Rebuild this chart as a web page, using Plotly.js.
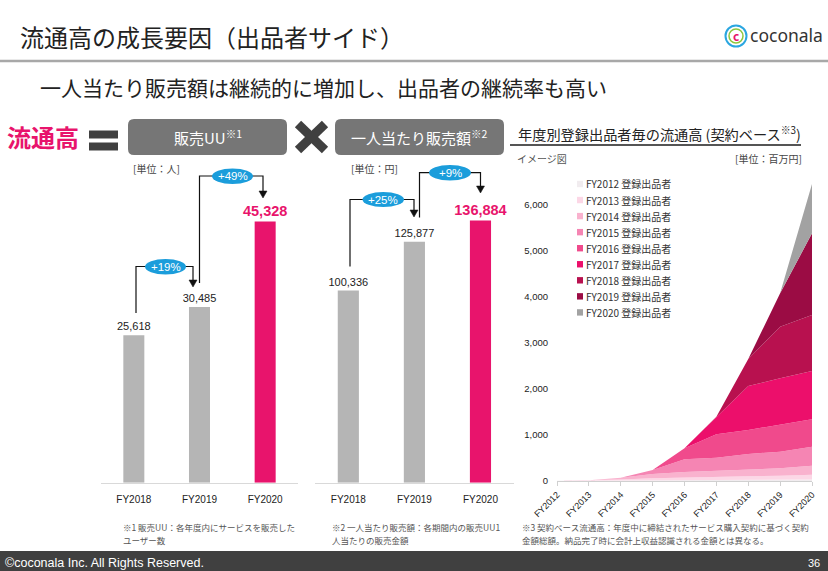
<!DOCTYPE html>
<html>
<head>
<meta charset="utf-8">
<script src="https://cdn.plot.ly/plotly-3.0.1.min.js"></script>
<style>html,body{margin:0;padding:0;background:#fff;}#chart{width:828px;height:571px;}</style>
</head>
<body>
<div id="chart"></div>
<script>
// ---------- data ----------
const barCats = ['FY2018', 'FY2019', 'FY2020'];
const uuValues = [25618, 30485, 45328];
const perUserValues = [100336, 125877, 136884];
const uuGrowth = ['+19%', '+49%'];
const perUserGrowth = ['+25%', '+9%'];

const areaYears = ['FY2012','FY2013','FY2014','FY2015','FY2016','FY2017','FY2018','FY2019','FY2020'];
const cohortNames = ['FY2012 登録出品者','FY2013 登録出品者','FY2014 登録出品者','FY2015 登録出品者','FY2016 登録出品者','FY2017 登録出品者','FY2018 登録出品者','FY2019 登録出品者','FY2020 登録出品者'];
const cohort2012 = [3, 6, 10, 14, 18, 20, 22, 25, 30];
const cohort2013 = [0, 9, 25, 46, 62, 75, 83, 90, 105];
const cohort2014 = [0, 0, 37, 92, 116, 122, 134, 160, 198];
const cohort2015 = [0, 0, 0, 87, 275, 290, 348, 362, 413];
const cohort2016 = [0, 0, 0, 0, 240, 508, 522, 580, 595];
const cohort2017 = [0, 0, 0, 0, 0, 383, 956, 1015, 1050];
const cohort2018 = [0, 0, 0, 0, 0, 0, 585, 1123, 1218];
const cohort2019 = [0, 0, 0, 0, 0, 0, 0, 725, 1776];
const cohort2020 = [0, 0, 0, 0, 0, 0, 0, 0, 1072];
const cohorts = [cohort2012, cohort2013, cohort2014, cohort2015, cohort2016, cohort2017, cohort2018, cohort2019, cohort2020];
const yTicks3 = [0, 1000, 2000, 3000, 4000, 5000, 6000];

// ---------- styling ----------
const W = 828, H = 571;
const JP = '"Noto Sans CJK JP", "Noto Sans", sans-serif';
const LAT = '"Liberation Sans", Arial, sans-serif';
const PINK = '#e8146c';
const GRAY_BAR = '#b5b5b5';
const BLUE = '#1b9ddb';
const cohortColors = ['#f1ecef','#fcd7e6','#f9b2ce','#f585b3','#f04a8c','#ec0f6b','#b8114f','#9b0c44','#a2a2a2'];

const X = v => v / W;
const Y = v => 1 - v / H;
const fmt = v => v.toLocaleString('en-US');

function ann(text, x, y, size, color, opts) {
  return Object.assign({
    xref: 'paper', yref: 'paper', x: X(x), y: Y(y), text: text, showarrow: false,
    xanchor: 'left', yanchor: 'middle', borderpad: 0,
    font: {family: JP, size: size, color: color}
  }, opts || {});
}
function rect(x0, y0, x1, y1, fill) {
  return {type: 'rect', xref: 'paper', yref: 'paper', x0: X(x0), x1: X(x1), y0: Y(y1), y1: Y(y0),
          fillcolor: fill, line: {width: 0}};
}
function line(x0, y0, x1, y1, color, w) {
  return {type: 'line', xref: 'paper', yref: 'paper', x0: X(x0), y0: Y(y0), x1: X(x1), y1: Y(y1),
          line: {color: color, width: w}};
}
function ellipse(x0, y0, x1, y1, fill, lc, lw) {
  return {type: 'circle', xref: 'paper', yref: 'paper', x0: X(x0), x1: X(x1), y0: Y(y1), y1: Y(y0),
          fillcolor: fill, line: {color: lc || fill, width: lw || 0}};
}
function pathShape(pts, fill, lc, lw, closed) {
  let d = pts.map((p, i) => (i ? 'L' : 'M') + X(p[0]) + ',' + Y(p[1])).join(' ');
  if (closed) d += ' Z';
  return {type: 'path', xref: 'paper', yref: 'paper', path: d,
          fillcolor: fill || 'rgba(0,0,0,0)', line: {color: lc || 'rgba(0,0,0,0)', width: lw || 0}};
}
function rrect(x0, y0, x1, y1, r, fill) {
  const P = (x, y) => X(x) + ',' + Y(y);
  const d = 'M' + P(x0 + r, y0) + ' L' + P(x1 - r, y0) + ' Q' + P(x1, y0) + ' ' + P(x1, y0 + r) +
    ' L' + P(x1, y1 - r) + ' Q' + P(x1, y1) + ' ' + P(x1 - r, y1) +
    ' L' + P(x0 + r, y1) + ' Q' + P(x0, y1) + ' ' + P(x0, y1 - r) +
    ' L' + P(x0, y0 + r) + ' Q' + P(x0, y0) + ' ' + P(x0 + r, y0) + ' Z';
  return {type: 'path', xref: 'paper', yref: 'paper', path: d, fillcolor: fill, line: {width: 0}};
}
function connector(xs, yTop, xe, yTip) {
  return [
    pathShape([[xs.x, xs.y], [xs.x, yTop], [xe, yTop], [xe, yTip - 6]], null, '#111', 1.2, false),
    pathShape([[xe - 4, yTip - 7], [xe + 4, yTip - 7], [xe, yTip]], '#111', '#111', 0.5, true)
  ];
}

// ---------- traces ----------
const barColors = [GRAY_BAR, GRAY_BAR, PINK];
const barTextColors = ['#222', '#222', PINK];
const barTextSizes = [11, 11, 14.5];
const boldLast = vals => vals.map((v, i) => i === vals.length - 1 ? '<b>' + fmt(v) + '</b>' : fmt(v));

const traces = [
  {type: 'bar', x: barCats, y: uuValues, xaxis: 'x', yaxis: 'y', width: 0.32,
   marker: {color: barColors}, text: boldLast(uuValues), textposition: 'outside', cliponaxis: false,
   constraintext: 'none',
   textfont: {family: LAT, size: barTextSizes, color: barTextColors}, hoverinfo: 'skip', showlegend: false},
  {type: 'bar', x: barCats, y: perUserValues, xaxis: 'x2', yaxis: 'y2', width: 0.32,
   marker: {color: barColors}, text: boldLast(perUserValues), textposition: 'outside', cliponaxis: false,
   constraintext: 'none',
   textfont: {family: LAT, size: barTextSizes, color: barTextColors}, hoverinfo: 'skip', showlegend: false}
];
cohorts.forEach((vals, i) => {
  traces.push({type: 'scatter', mode: 'lines', x: areaYears, y: vals, xaxis: 'x3', yaxis: 'y3',
    stackgroup: 'one', fillcolor: cohortColors[i], line: {width: 0, color: cohortColors[i]},
    name: cohortNames[i], showlegend: false, hoverinfo: 'skip'});
});

// ---------- decorations ----------
const shapes = [];
const annotations = [];

// header
annotations.push(ann('流通高の成長要因（出品者サイド）', 19, 36, 24, '#222'));
shapes.push(line(0, 61, 828, 61, '#a8a8a8', 2.5));
annotations.push(ann('一人当たり販売額は継続的に増加し、出品者の継続率も高い', 39, 87, 21, '#222'));
// logo
shapes.push(ellipse(725.5, 25.5, 746.5, 46.5, 'rgba(0,0,0,0)', '#2aa6e0', 2));
shapes.push(ellipse(729, 29, 743, 43, 'rgba(0,0,0,0)', '#8dc63f', 1.5));
annotations.push(ann('<b>c</b>', 736, 35.5, 12, PINK, {xanchor: 'center'}));
annotations.push(ann('coconala', 749, 35, 17.5, '#333', {font: {family: '"Noto Sans", sans-serif', size: 17.5, color: '#333'}}));

// equation row
annotations.push(ann('<b>流通高</b>', 43, 136, 24, PINK, {xanchor: 'center'}));
shapes.push(rect(89, 130.5, 118, 138.5, '#404040'));
shapes.push(rect(89, 142.5, 118, 150.5, '#404040'));
shapes.push(rrect(128, 119, 287, 155, 6, '#767676'));
annotations.push(ann('販売UU<sup>※1</sup>', 207.5, 137, 15, '#fff', {xanchor: 'center'}));
shapes.push(line(298, 124, 325, 150, '#404040', 9));
shapes.push(line(298, 150, 325, 124, '#404040', 9));
shapes.push(rrect(335, 119, 504, 155, 6, '#767676'));
annotations.push(ann('一人当たり販売額<sup>※2</sup>', 419.5, 137, 15, '#fff', {xanchor: 'center'}));
annotations.push(ann('[単位：人]', 132, 169, 10, '#444'));
annotations.push(ann('[単位：円]', 350, 169, 10, '#444'));

// growth connectors (left)
connector({x: 136, y: 313}, 266.5, 193, 287).forEach(s => shapes.push(s));
connector({x: 199.5, y: 283}, 176, 263, 198).forEach(s => shapes.push(s));
shapes.push(ellipse(145, 259, 186, 274.5, BLUE));
annotations.push(ann(uuGrowth[0], 165.5, 267, 11, '#fff', {xanchor: 'center', font: {family: LAT, size: 11.5, color: '#fff'}}));
shapes.push(ellipse(212, 168.5, 253, 184, BLUE));
annotations.push(ann(uuGrowth[1], 232.5, 176.5, 11, '#fff', {xanchor: 'center', font: {family: LAT, size: 11.5, color: '#fff'}}));
// growth connectors (middle)
connector({x: 350, y: 266.5}, 199.5, 414, 217).forEach(s => shapes.push(s));
connector({x: 419.5, y: 217.5}, 172.7, 480.5, 193).forEach(s => shapes.push(s));
shapes.push(ellipse(362.5, 192, 404, 207, BLUE));
annotations.push(ann(perUserGrowth[0], 383.3, 199.5, 11, '#fff', {xanchor: 'center', font: {family: LAT, size: 11.5, color: '#fff'}}));
shapes.push(ellipse(429, 165, 471, 180.5, BLUE));
annotations.push(ann(perUserGrowth[1], 450, 173, 11, '#fff', {xanchor: 'center', font: {family: LAT, size: 11.5, color: '#fff'}}));

// right chart header
annotations.push(ann('年度別登録出品者毎の流通高 (契約ベース<sup>※3</sup>)', 517, 133, 14.2, '#222'));
shapes.push(line(510, 145, 801, 145, '#555', 2));
annotations.push(ann('イメージ図', 516, 158, 10, '#555'));
annotations.push(ann('[単位：百万円]', 803, 158, 10, '#444', {xanchor: 'right'}));
// legend
cohortNames.forEach((nm, i) => {
  const yy = 184 + i * 16.05;
  shapes.push(rect(577, yy - 3.2, 583, yy + 3.2, cohortColors[i]));
  annotations.push(ann(nm, 584.5, yy, 10, '#333'));
});

// footnotes
annotations.push(ann('※1 販売UU：各年度内にサービスを販売した', 122, 527, 8.5, '#555'));
annotations.push(ann('ユーザー数', 122, 540, 8.5, '#555'));
annotations.push(ann('※2 一人当たり販売額：各期間内の販売UU1', 331, 527, 8.5, '#555'));
annotations.push(ann('人当たりの販売金額', 331, 540, 8.5, '#555'));
annotations.push(ann('※3 契約ベース流通高：年度中に締結されたサービス購入契約に基づく契約', 521, 527, 8.5, '#555'));
annotations.push(ann('金額総額。納品完了時に会計上収益認識される金額とは異なる。', 521, 540, 8.5, '#555'));

// footer
shapes.push(rect(0, 551, 828, 571, '#404040'));
annotations.push(ann('©coconala Inc. All Rights Reserved.', 4, 563, 12, '#fff', {font: {family: LAT, size: 12.5, color: '#fff'}}));
annotations.push(ann('36', 821, 563, 11, '#fff', {xanchor: 'right', font: {family: LAT, size: 11, color: '#fff'}}));

// ---------- axes ----------
const barBottom = 482.7, barTop = 140;
const yDomBar = [Y(barBottom), Y(barTop)];
const catAxis = (d) => ({domain: d, type: 'category', showline: true, linecolor: '#d9d9d9', linewidth: 1,
  ticks: '', showgrid: false, zeroline: false, fixedrange: true, ticklabelstandoff: 7,
  tickfont: {family: LAT, size: 10, color: '#222'}});

const layout = {
  width: W, height: H, margin: {l: 0, r: 0, t: 0, b: 0},
  paper_bgcolor: '#fff', plot_bgcolor: 'rgba(0,0,0,0)', showlegend: false,
  xaxis: Object.assign(catAxis([X(101), X(298)]), {anchor: 'y'}),
  yaxis: {domain: yDomBar, anchor: 'x', range: [0, (barBottom - barTop) / 0.00576], visible: false, fixedrange: true},
  xaxis2: Object.assign(catAxis([X(315.3), X(513.5)]), {anchor: 'y2'}),
  yaxis2: {domain: yDomBar, anchor: 'x2', range: [0, (barBottom - barTop) / 0.001915], visible: false, fixedrange: true},
  xaxis3: {domain: [X(557), X(812)], anchor: 'y3', type: 'category', range: [0, 8],
    showline: true, linecolor: '#d0d0d0', linewidth: 1, ticks: 'outside', ticklen: 4, tickcolor: '#d0d0d0',
    tickangle: -45, showgrid: false, zeroline: false, fixedrange: true,
    tickfont: {family: LAT, size: 9, color: '#222'}},
  yaxis3: {domain: [Y(481), Y(159)], anchor: 'x3', range: [0, 7000], tickvals: yTicks3,
    ticktext: yTicks3.map(fmt), showgrid: false, zeroline: false, showline: false, ticks: '',
    ticklabelstandoff: 8, fixedrange: true, tickfont: {family: LAT, size: 9.5, color: '#222'}},
  shapes: shapes,
  annotations: annotations,
  font: {family: JP}
};

Plotly.newPlot('chart', traces, layout, {staticPlot: true, displayModeBar: false});
</script>
</body>
</html>
